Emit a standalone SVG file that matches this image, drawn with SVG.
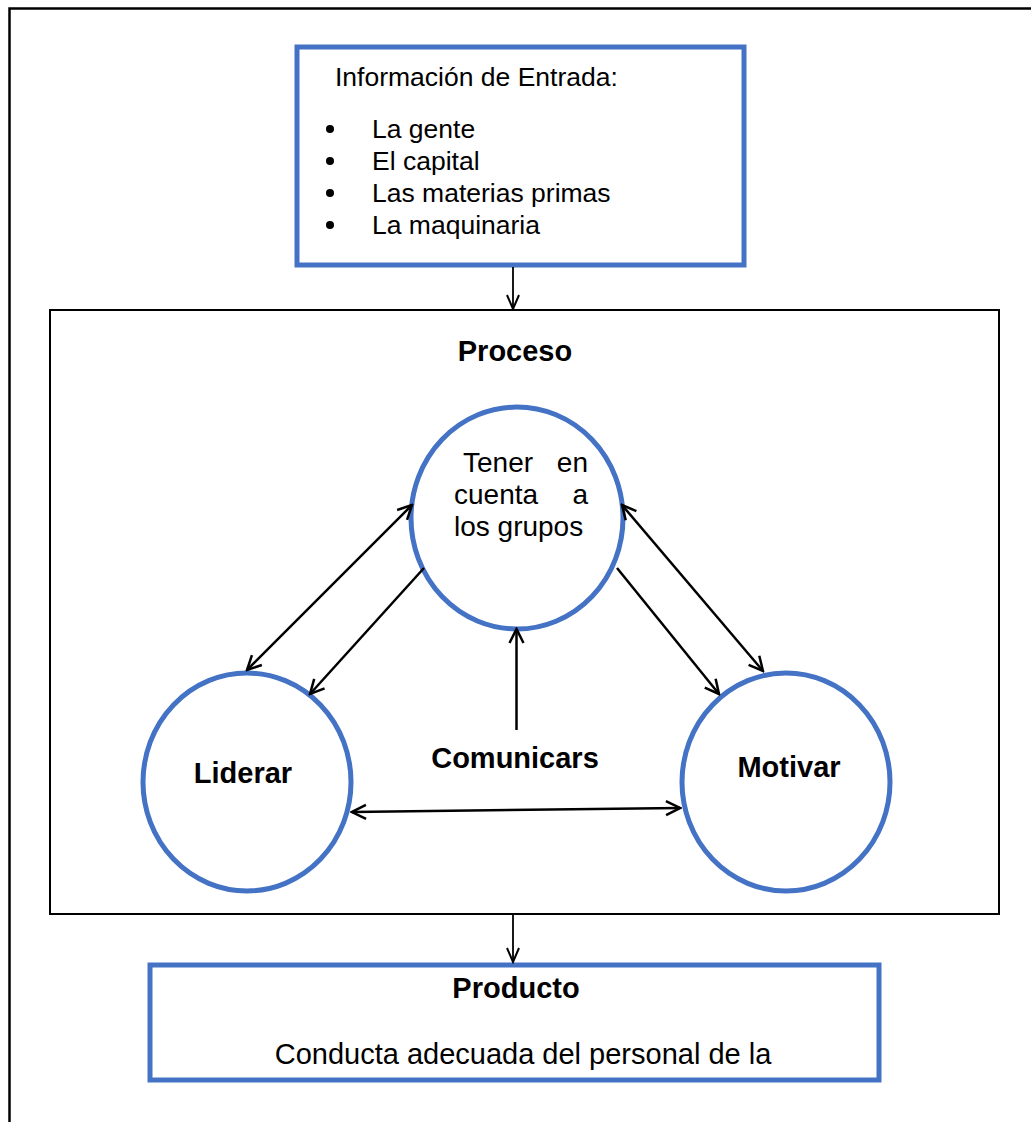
<svg xmlns="http://www.w3.org/2000/svg" width="1031" height="1122" viewBox="0 0 1031 1122">
<style>
text{font-family:"Liberation Sans",Arial,sans-serif;fill:#000}
.b{font-weight:bold;font-size:29px}
.r{font-size:26.5px}
.t{font-size:28px}
.blue{fill:#fff;stroke:#4472C4;stroke-width:5}
.con line{stroke:#000;stroke-width:2.5;fill:none}
.con line.thin{stroke-width:1.8}
</style>
<defs>
<marker id="ah" markerUnits="userSpaceOnUse" viewBox="-16 -9 18 18" markerWidth="18" markerHeight="18" refX="0" refY="0" orient="auto-start-reverse">
<path d="M-14,-7 L0,0 L-14,7" fill="none" stroke="#000" stroke-width="2.5"/>
</marker>
<marker id="ahs" markerUnits="userSpaceOnUse" viewBox="-16 -9 18 18" markerWidth="18" markerHeight="18" refX="0" refY="0" orient="auto-start-reverse">
<path d="M-14,-6 L0,0 L-14,6" fill="none" stroke="#000" stroke-width="2"/>
</marker>
</defs>
<rect x="0" y="0" width="1031" height="1122" fill="#fff"/>
<g id="frame">
<path d="M9.5,1122 L9.5,8.5 L1031,8.5" fill="none" stroke="#000" stroke-width="2.5"/>
</g>
<g id="entrada">
<rect class="blue" x="297" y="47" width="447" height="218"/>
<text class="r" x="335" y="86">Información de Entrada:</text>
<circle cx="330" cy="129" r="4"/>
<circle cx="330" cy="161" r="4"/>
<circle cx="330" cy="193" r="4"/>
<circle cx="330" cy="225" r="4"/>
<text class="r" x="372" y="138">La gente</text>
<text class="r" x="372" y="170">El capital</text>
<text class="r" x="372" y="202">Las materias primas</text>
<text class="r" x="372" y="234">La maquinaria</text>
</g>
<g id="proceso">
<rect x="50" y="310" width="949" height="604" fill="none" stroke="#000" stroke-width="2"/>
<text class="b" x="515" y="361" text-anchor="middle">Proceso</text>
</g>
<g id="tener">
<ellipse class="blue" cx="517" cy="518" rx="106" ry="111"/>
<text class="t" x="463" y="472">Tener</text>
<text class="t" x="588" y="472" text-anchor="end">en</text>
<text class="t" x="454" y="504">cuenta</text>
<text class="t" x="588" y="504" text-anchor="end">a</text>
<text class="t" x="454" y="536">los grupos</text>
</g>
<g id="liderar">
<ellipse class="blue" cx="247" cy="782" rx="104" ry="109"/>
<text class="b" x="243" y="783" text-anchor="middle">Liderar</text>
</g>
<g id="motivar">
<ellipse class="blue" cx="786" cy="782" rx="104" ry="109"/>
<text class="b" x="789" y="777" text-anchor="middle">Motivar</text>
</g>
<g id="comunicar">
<text class="b" x="515" y="768" text-anchor="middle">Comunicars</text>
</g>
<g id="producto">
<rect class="blue" x="150" y="965" width="729" height="115"/>
<text class="b" x="516" y="998" text-anchor="middle">Producto</text>
<text class="r" style="font-size:29px" x="523" y="1064" text-anchor="middle">Conducta adecuada del personal de la</text>
</g>
<g class="con" id="connectors">
<line class="thin" x1="513" y1="267" x2="513" y2="309" marker-end="url(#ahs)"/>
<line class="thin" x1="513" y1="915" x2="513" y2="962" marker-end="url(#ahs)"/>
<line x1="412" y1="505" x2="247" y2="670" marker-start="url(#ah)" marker-end="url(#ah)"/>
<line x1="424" y1="568" x2="310" y2="694" marker-end="url(#ah)"/>
<line x1="617" y1="568" x2="719" y2="694" marker-end="url(#ah)"/>
<line x1="622" y1="505" x2="763" y2="671" marker-start="url(#ah)" marker-end="url(#ah)"/>
<line x1="516.5" y1="730" x2="516.5" y2="629" marker-end="url(#ah)"/>
<line x1="352" y1="812" x2="680" y2="808" marker-start="url(#ah)" marker-end="url(#ah)"/>
</g>
</svg>
